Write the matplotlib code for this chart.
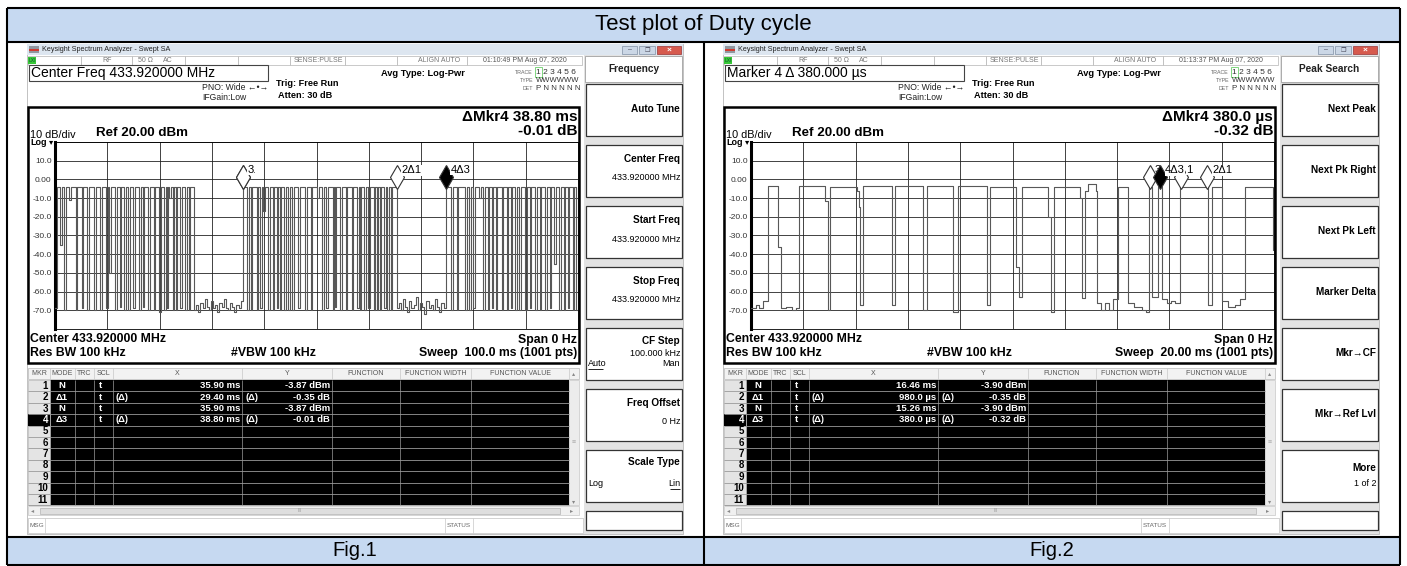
import numpy as np
import matplotlib
matplotlib.use('Agg')
import matplotlib.pyplot as plt
from matplotlib.patches import Rectangle
from matplotlib.transforms import offset_copy

plt.rcParams['font.family'] = ['Liberation Sans', 'DejaVu Sans']

W, H = 1407, 566
BLUE = '#c6d9f1'

TITLE = 'Test plot of Duty cycle'
CAPTIONS = ['Fig.1', 'Fig.2']

# texts of the two analyzer screens
CENTER_BOX = ['Center Freq 433.920000 MHz', 'Marker 4 \u0394 380.000 \u00b5s']
CLOCK = ['01:10:49 PM Aug 07, 2020', '01:13:37 PM Aug 07, 2020']
SWEEP_TXT = ['Sweep  100.0 ms (1001 pts)', 'Sweep  20.00 ms (1001 pts)']
SPAN_MS = [100.0, 20.0]
MENU_TITLE = ['Frequency', 'Peak Search']
MENU_KEYS = [
    [('Auto Tune', ''), ('Center Freq', '433.920000 MHz'), ('Start Freq', '433.920000 MHz'),
     ('Stop Freq', '433.920000 MHz'), ('CF Step', '100.000 kHz'), ('Freq Offset', '0 Hz'),
     ('Scale Type', '')],
    [('Next Peak', ''), ('Next Pk Right', ''), ('Next Pk Left', ''), ('Marker Delta', ''),
     ('Mkr\u2192CF', ''), ('Mkr\u2192Ref Lvl', ''), ('More', '1 of 2')],
]

Y_TICKS = list(range(-80, 21, 10))
Y_LABELS = ['', '-70.0', '-60.0', '-50.0', '-40.0', '-30.0', '-20.0', '-10.0', '0.00', '10.0', '']

# markers (mode, reference marker)
MKR_MODE = ['N', '\u03941', 'N', '\u03943']
MKR_REF = [None, 0, None, 2]
F1_MKR_X = [35.90, 29.40, 35.90, 38.80]     # ms
F1_MKR_Y = [-3.87, -0.35, -3.87, -0.01]     # dBm / dB
F2_MKR_X = [16.46, 0.98, 15.26, 0.38]
F2_MKR_Y = [-3.90, -0.35, -3.90, -0.32]

# fig.1 trace, 100 ms sweep: three bursts with short drop-outs
F1_HIGH = -3.9
F1_DIP_W = 0.3
F1_START_DB = -69
F1_BURST_ON = [0.4, 35.9, 74.7]
F1_BURST_OFF = [26.6, 65.3, 100.0]
F1_DIPS_A = [0.96, 1.72, 2.74, 4.0, 5.1, 6.2, 7.5, 8.6, 9.75, 10.4, 11.5, 12.4, 13.2, 14.0,
             15.0, 16.1, 16.8, 17.8, 18.9, 19.9, 20.9, 21.4, 21.8, 22.5, 23.1, 23.9, 24.9, 25.6]
F1_LVL_A = [-35, -70, -11, -70, -69, -70, -70, -70, -69, -50, -70, -68, -70, -70,
            -69, -70, -68, -70, -70, -71, -70, -69, -10, -70, -70, -69, -70, -70]
F1_DIPS_B = [36.8, 37.4, 38.6, 39.2, 39.8, 40.8, 41.6, 42.4, 43.0, 43.8, 44.6, 45.4, 46.5,
             47.8, 48.9, 50.1, 51.1, 51.9, 53.1, 53.5, 54.5, 55.6, 56.7, 57.8, 58.3, 59.1,
             59.9, 60.9, 61.5, 62.1, 62.9, 63.5, 64.2]
F1_LVL_B = [-70, -70, -70, -69, -17, -70, -70, -69, -70, -70, -70, -70, -69,
            -70, -70, -10, -70, -69, -70, -68, -70, -70, -70, -69, -70, -70,
            -69, -70, -70, -70, -69, -70, -70]
F1_DIPS_C = [75.8, 76.8, 78.4, 79.2, 80.0, 81.1, 81.9, 82.7, 83.5, 84.3, 85.4, 86.4, 87.1,
             88.0, 88.8, 89.9, 90.8, 91.8, 92.7, 93.7, 94.6, 95.4, 96.4, 97.3, 98.0, 99.0, 99.7]
F1_LVL_C = [-70, -70, -70, -70, -69, -10, -70, -70, -69, -70, -70, -70, -69,
            -70, -70, -70, -69, -70, -70, -70, -69, -45, -70, -70, -69, -70, -70]
F1_FLOOR_A = [-70, -67, -71, -66, -69, -64, -68, -70, -65, -69, -67, -71, -66, -68, -64,
              -69, -70, -66, -68, -71, -67, -69, -65]
F1_FLOOR_B = [-69, -66, -70, -64, -68, -71, -65, -69, -67, -63, -70, -66, -68, -72, -65,
              -69, -67, -70, -64, -68, -71, -66, -69]

# fig.2 trace, 20 ms sweep: step edges (ms) and levels (dBm)
F2_T = [0.00, 0.20, 0.32, 0.45, 0.64, 1.05, 1.14, 1.35, 1.55, 1.72, 1.85, 2.83, 2.96, 3.02,
        4.04, 4.14, 4.17, 4.30, 5.38, 5.50, 6.56, 6.74, 7.74, 7.90, 9.01, 9.14, 10.13, 10.26,
        10.38, 11.37, 11.46, 11.59, 12.58, 12.64, 12.77, 12.87, 13.20, 13.24, 13.40, 13.55,
        13.70, 13.85, 14.02, 14.43, 14.65, 14.95, 15.10, 15.22, 15.33, 15.58, 15.72, 15.90,
        16.05, 16.20, 16.42, 17.48, 17.62, 18.03, 18.25, 18.50, 18.70, 18.89, 19.95, 20.00]
F2_DB = [-69, -67, -69, -65, -3.6, -36, -69, -68, -70, -69, -3.6, -11.5, -70, -4.2,
         -6, -15, -67, -3.6, -67, -3.6, -70, -3.6, -71, -3.6, -67, -3.8, -47, -63,
         -3.8, -20, -71, -3.8, -10, -63.5, -6, -2.5, -6, -66, -70, -66,
         -70, -64, -3.8, -66, -68, -70, -71, -3.9, -63, -3.9, -64, -66,
         -65, -66, -3.9, -67, -3.9, -65, -68, -67, -64, -3.8, -38, -38]

fig = plt.figure(figsize=(W / 100, H / 100), dpi=100)
base = fig.add_axes([0, 0, 1, 1])
base.set_xlim(0, W)
base.set_ylim(H, 0)
base.axis('off')


def rect(x0, y0, x1, y1, fc='none', ec='none', lw=0.7, z=1):
    base.add_patch(Rectangle((x0, y0), x1 - x0, y1 - y0, facecolor=fc, edgecolor=ec,
                             linewidth=lw, zorder=z))


def txt(x, y, s, size, ha='left', weight='normal', color='black', z=5):
    base.text(x, y, s, fontsize=size, ha=ha, va='center', fontweight=weight, color=color, zorder=z)


def line(xs, ys, color='black', lw=0.7, z=2):
    base.plot(xs, ys, color=color, lw=lw, zorder=z, solid_capstyle='butt')


def fmt_x(v):
    return f'{v * 1000:.1f} \u00b5s' if v < 1 else f'{v:.2f} ms'


def f1_trace():
    t, y = [0.0], [F1_START_DB]
    dips = [(F1_DIPS_A, F1_LVL_A, F1_FLOOR_A), (F1_DIPS_B, F1_LVL_B, F1_FLOOR_B),
            (F1_DIPS_C, F1_LVL_C, None)]
    for k, (on, off) in enumerate(zip(F1_BURST_ON, F1_BURST_OFF)):
        d, lv, floor = dips[k]
        t.append(on)
        y.append(F1_HIGH)
        for dt, dl in zip(d, lv):
            t += [dt, dt + F1_DIP_W]
            y += [dl, F1_HIGH]
        if floor is not None:
            ft = np.linspace(off, F1_BURST_ON[k + 1], len(floor), endpoint=False)
            t += list(ft)
            y += floor
    t.append(SPAN_MS[0])
    y.append(y[-1])
    return t, y


# ---------------- word table around the screenshots
rect(7, 8, 1400, 42, fc=BLUE, z=0)
rect(7, 537, 1400, 565, fc=BLUE, z=0)
for yy in (8, 42, 537, 565):
    line([7, 1400], [yy, yy], lw=1.5, z=3)
for xx in (7, 1400):
    line([xx, xx], [8, 565], lw=1.5, z=3)
line([704, 704], [42, 565], lw=1.5, z=3)
txt(703.5, 24.5, TITLE, 16, ha='center')
txt(355, 551, CAPTIONS[0], 14.5, ha='center')
txt(1052, 551, CAPTIONS[1], 14.5, ha='center')


def screen(k):
    ox = 696 * k
    X = lambda v: v + ox
    span = SPAN_MS[k]
    mx = F1_MKR_X if k == 0 else F2_MKR_X
    my = F1_MKR_Y if k == 0 else F2_MKR_Y

    rect(X(27), 44, X(683), 534, fc='white', ec='#b8b8b8', lw=0.6, z=0.5)
    # window title bar
    rect(X(27), 44, X(683), 55, fc='#dde6f0', z=1)
    rect(X(29), 46, X(39), 53, fc='#9097a0', z=2)
    rect(X(29), 49, X(39), 51, fc='#d03a30', z=2)
    txt(X(42), 49.5, 'Keysight Spectrum Analyzer - Swept SA', 5.2, color='#222')
    rect(X(622), 46, X(637), 54, fc='#cbd7e6', ec='#8090a5', lw=0.5, z=2)
    rect(X(639), 46, X(655), 54, fc='#cbd7e6', ec='#8090a5', lw=0.5, z=2)
    rect(X(657), 46, X(681), 54, fc='#d65a4e', ec='#933', lw=0.5, z=2)
    txt(X(629.5), 50, '\u2013', 5, ha='center', color='#445')
    txt(X(647), 50, '\u2750', 4.5, ha='center', color='#445')
    txt(X(669), 50, '\u00d7', 6, ha='center', color='white', weight='bold')

    # status row
    xs = [28, 81, 132, 185, 238, 290, 345, 397, 467, 582]
    for a, b in zip(xs[:-1], xs[1:]):
        rect(X(a), 56, X(b), 65, fc='white', ec='#b4b4b4', lw=0.5, z=1)
    rect(X(28), 57, X(36), 64, fc='#37c837', z=2)
    txt(X(28.5), 60.5, 'LXI', 3.6, color='#153')
    txt(X(107), 60.5, 'RF', 5, ha='center', color='#777')
    txt(X(138), 60.5, '50 \u03a9', 5, color='#777')
    txt(X(163), 60.5, 'AC', 5, color='#777')
    txt(X(318), 60.5, 'SENSE:PULSE', 5, ha='center', color='#777')
    txt(X(439), 60.5, 'ALIGN AUTO', 5, ha='center', color='#777')
    txt(X(524.5), 60.5, CLOCK[k], 5, ha='center', color='#555')

    # header texts
    rect(X(29), 65, X(268), 81, fc='white', ec='#444', lw=0.8, z=1)
    txt(X(31), 73.5, CENTER_BOX[k], 10)
    txt(X(202), 87, 'PNO: Wide \u2190\u2022\u2192', 6.2, color='#222')
    txt(X(202), 97, 'IFGain:Low', 6.2, color='#222')
    txt(X(276), 83, 'Trig: Free Run', 6.6, weight='bold')
    txt(X(278), 96, 'Atten: 30 dB', 6.6, weight='bold')
    txt(X(465), 73, 'Avg Type: Log-Pwr', 6.7, ha='right', weight='bold')
    for yy, lab, val, sz in ((72, 'TRACE', '1 2 3 4 5 6', 6), (80, 'TYPE', 'WWWWWW', 5.5),
                             (88, 'DET', 'P N N N N N', 5.7)):
        txt(X(533), yy, lab, 3.8, ha='right', color='#666')
        txt(X(536), yy, val, sz, color='#333')
    rect(X(535), 67, X(542), 77, ec='#7fd67f', lw=0.7, z=2)

    # graticule frame
    rect(X(28), 107, X(579), 363, fc='white', ec='black', lw=1.8, z=1)
    i4 = 3
    txt(X(577), 117, '\u0394Mkr4 ' + fmt_x(mx[i4]), 11, ha='right', weight='bold')
    txt(X(577), 131, f'{my[i4]:.2f} dB', 11, ha='right', weight='bold')
    txt(X(30), 135, '10 dB/div', 7.8)
    txt(X(96), 133.5, 'Ref 20.00 dBm', 9.6, weight='bold')
    txt(X(30.5), 142.5, 'Log', 6.5, weight='bold')
    txt(X(49), 143, '\u25be', 6, ha='left')
    txt(X(30), 339.5, 'Center 433.920000 MHz', 8.8, weight='bold')
    txt(X(30), 353, 'Res BW 100 kHz', 8.8, weight='bold')
    txt(X(231), 353, '#VBW 100 kHz', 8.8, weight='bold')
    txt(X(577), 339.5, 'Span 0 Hz', 8.8, ha='right', weight='bold')
    txt(X(577), 353, SWEEP_TXT[k], 8.8, ha='right', weight='bold')

    gx = fig.add_axes([X(55) / W, 1 - 329 / H, 523 / W, 187 / H])
    gx.set_xlim(0, span)
    gx.set_ylim(-80, 20)
    gx.set_xticks(np.linspace(0, span, 11))
    gx.set_xticklabels([])
    gx.set_yticks(Y_TICKS)
    gx.set_yticklabels(Y_LABELS)
    gx.tick_params(length=0, labelsize=6, pad=2.5, labelcolor='#333')
    gx.grid(True, color='#222', lw=0.6)
    for s in ('top', 'right', 'bottom'):
        gx.spines[s].set_linewidth(0.6)
    gx.spines['left'].set_linewidth(2.2)
    if k == 0:
        t, y = f1_trace()
    else:
        t, y = F2_T, F2_DB
    gx.step(t, y, where='post', color='#585858', lw=0.8, zorder=3)

    # markers on the trace
    ax_ = [mx[i] if MKR_REF[i] is None else mx[MKR_REF[i]] + mx[i] for i in range(4)]
    ay_ = [my[i] if MKR_REF[i] is None else my[MKR_REF[i]] + my[i] for i in range(4)]
    mtr = offset_copy(gx.transData, fig=fig, x=0, y=10, units='dots')
    ltr = offset_copy(gx.transData, fig=fig, x=5, y=17, units='dots')
    for i in range(4):
        lab = str(i + 1) if MKR_REF[i] is None else f'{i + 1}\u0394{MKR_REF[i] + 1}'
        active = i == 3
        gx.plot([ax_[i]], [ay_[i]], marker='d', ms=12.5, mfc='black' if active else 'white',
                mec='#333', mew=0.8, transform=mtr, clip_on=False, zorder=10 + 2 * i)
        gx.text(ax_[i], ay_[i], lab, transform=ltr, fontsize=8, ha='left', va='center',
                zorder=11 + 2 * i, bbox=dict(fc='white', ec='none', pad=0.3))
    if k == 1:
        txt(X(562), 156, '*', 11, ha='center', weight='bold', z=8)

    # marker table
    cols = [28, 50, 75, 94, 113, 242, 332, 400, 471, 569]
    heads = ['MKR', 'MODE', 'TRC', 'SCL', 'X', 'Y', 'FUNCTION', 'FUNCTION WIDTH', 'FUNCTION VALUE']
    rect(X(28), 368, X(579), 379, fc='#f2f2f2', ec='#b8b8b8', lw=0.5, z=1)
    for a, b, hname in zip(cols[:-1], cols[1:], heads):
        line([X(b), X(b)], [368, 379], color='#c8c8c8', lw=0.5)
        txt(X((a + b) / 2), 373.5, hname, 5, ha='center', color='#555')
    txt(X(574), 373.5, '\u25b4', 4.5, ha='center', color='#888')
    r0, rh = 380, 11.4
    rect(X(50), r0, X(569), r0 + 11 * rh, fc='black', z=1)
    rect(X(28), r0, X(50), r0 + 11 * rh, fc='#e4e4e4', ec='#b8b8b8', lw=0.5, z=1)
    rect(X(569), r0, X(579), r0 + 11 * rh, fc='#ececec', ec='#c8c8c8', lw=0.5, z=1)
    txt(X(574), r0 + 11 * rh - 4, '\u25be', 4.5, ha='center', color='#888')
    txt(X(574), r0 + 5.5 * rh, '\u2261', 5, ha='center', color='#aaa')
    for r in range(11):
        yc = r0 + rh * (r + 0.5)
        line([X(28), X(569)], [r0 + rh * (r + 1)] * 2, color='#9a9a9a', lw=0.6, z=2)
        if r == 3:
            rect(X(28), r0 + rh * r, X(50), r0 + rh * (r + 1), fc='black', z=1.5)
        txt(X(48), yc, str(r + 1), 7, ha='right', weight='bold',
            color='white' if r == 3 else 'black')
    for c in cols[2:-1]:
        line([X(c), X(c)], [r0, r0 + 11 * rh], color='#9a9a9a', lw=0.5, z=2)
    for i in range(4):
        yc = r0 + rh * (i + 0.5)
        delta = MKR_REF[i] is not None
        txt(X(62), yc, MKR_MODE[i], 6.8, ha='center', weight='bold', color='white')
        txt(X(101), yc, 't', 6.8, ha='center', weight='bold', color='white')
        txt(X(240), yc, fmt_x(mx[i]), 6.8, ha='right', weight='bold', color='white')
        txt(X(330), yc, f'{my[i]:.2f} ' + ('dB' if delta else 'dBm'), 6.8, ha='right',
            weight='bold', color='white')
        if delta:
            txt(X(116), yc, '(\u0394)', 6.8, weight='bold', color='white')
            txt(X(245), yc, '(\u0394)', 6.8, weight='bold', color='white')
    # scroll bar + message line
    rect(X(28), 506, X(579), 515, fc='#f0f0f0', ec='#c8c8c8', lw=0.5, z=1)
    rect(X(40), 507.5, X(560), 513.5, fc='#dedede', ec='#b4b4b4', lw=0.5, z=1.5)
    txt(X(33), 510.5, '\u25c2', 4.5, ha='center', color='#888')
    txt(X(572), 510.5, '\u25b8', 4.5, ha='center', color='#888')
    txt(X(300), 510.5, 'III', 3.5, ha='center', color='#999')
    rect(X(28), 518, X(583), 533, fc='white', ec='#c0c0c0', lw=0.5, z=1)
    line([X(45), X(45)], [518, 533], color='#c8c8c8', lw=0.5)
    line([X(445), X(445)], [518, 533], color='#c8c8c8', lw=0.5)
    line([X(473), X(473)], [518, 533], color='#c8c8c8', lw=0.5)
    txt(X(30), 525.5, 'MSG', 4.6, color='#666')
    txt(X(459), 525.5, 'STATUS', 4.6, ha='center', color='#666')

    # soft keys
    rect(X(584), 55, X(683), 534, fc='#e3e3e3', z=1)
    rect(X(585), 56, X(682), 82, fc='white', ec='#a0a0a0', lw=0.6, z=1.5)
    txt(X(633.5), 69, MENU_TITLE[k], 7.3, ha='center', weight='bold', color='#222')
    for i, (lab, sub) in enumerate(MENU_KEYS[k]):
        top = 84 + 61 * i
        rect(X(586), top, X(682), top + 52, fc='white', ec='#333', lw=0.9, z=1.5)
        if lab == 'CF Step':
            txt(X(680), top + 13, lab, 7.2, ha='right', weight='bold')
            txt(X(680), top + 25, sub, 6.5, ha='right')
            txt(X(588), top + 36, 'Auto', 6.5)
            line([X(588), X(603)], [top + 40.5] * 2, lw=0.6, z=6)
            txt(X(680), top + 36, 'Man', 6.5, ha='right')
        elif lab == 'Scale Type':
            txt(X(680), top + 12, lab, 7.2, ha='right', weight='bold')
            txt(X(588), top + 34, 'Log', 6.5)
            txt(X(680), top + 34, 'Lin', 6.5, ha='right')
            line([X(670), X(680)], [top + 38.5] * 2, lw=0.6, z=6)
        elif lab == 'More':
            txt(X(680), top + 18, lab, 7.2, ha='right', weight='bold')
            txt(X(680), top + 33, sub, 6.5, ha='right')
        elif sub:
            txt(X(680), top + 14, lab, 7.2, ha='right', weight='bold')
            txt(X(680), top + 33, sub, 6.5, ha='right')
        else:
            txt(X(680), top + 25, lab, 7.2, ha='right', weight='bold')
    rect(X(586), 511, X(682), 530, fc='white', ec='#333', lw=0.9, z=1.5)


screen(0)
screen(1)

fig.savefig('out.png', dpi=100)
